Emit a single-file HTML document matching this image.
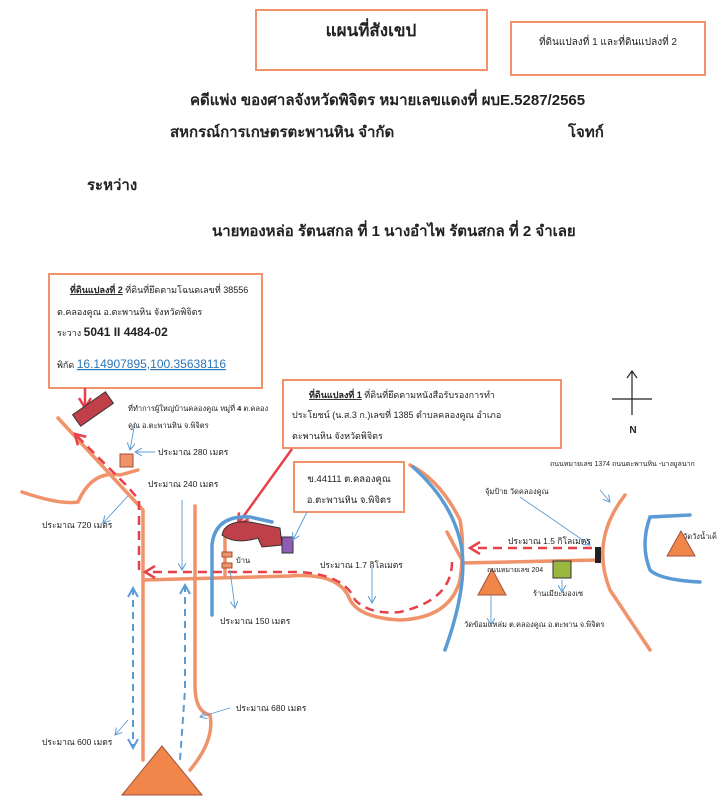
<!DOCTYPE html>
<html><head><meta charset="utf-8"><style>
html,body{margin:0;padding:0;background:#fff}
svg{display:block}
text{font-family:"Liberation Sans","Noto Sans CJK SC",sans-serif;fill:#222}
</style></head><body>
<svg width="725" height="800" viewBox="0 0 725 800" xmlns="http://www.w3.org/2000/svg">
<defs>
<marker id="ar" markerUnits="userSpaceOnUse" markerWidth="14" markerHeight="14" refX="11" refY="7" orient="auto-start-reverse"><path d="M1,1 L11,7 L1,13" fill="none" stroke="#e8404a" stroke-width="2.5"/></marker>
<marker id="ab" markerUnits="userSpaceOnUse" markerWidth="12" markerHeight="12" refX="10" refY="6" orient="auto-start-reverse"><path d="M1,1 L10,6 L1,11" fill="none" stroke="#5b9bd5" stroke-width="2"/></marker>
<marker id="at" markerUnits="userSpaceOnUse" markerWidth="8" markerHeight="8" refX="7" refY="4" orient="auto"><path d="M0,0 L7,4 L0,8" fill="none" stroke="#5b9bd5" stroke-width="1"/></marker>
</defs>
<!-- header boxes -->
<rect x="256" y="10" width="231" height="60" fill="none" stroke="#f0926a" stroke-width="2"/>
<text x="371" y="36" font-size="17" font-weight="bold" text-anchor="middle">แผนที่สังเขป</text>
<rect x="511" y="22" width="194" height="53" fill="none" stroke="#f0926a" stroke-width="2"/>
<text x="608" y="45" font-size="10" text-anchor="middle">ที่ดินแปลงที่ 1 และที่ดินแปลงที่ 2</text>
<text x="190" y="105" font-size="15" font-weight="bold">คดีแพ่ง   ของศาลจังหวัดพิจิตร  หมายเลขแดงที่ ผบE.5287/2565</text>
<text x="170" y="137" font-size="15" font-weight="bold">สหกรณ์การเกษตรตะพานหิน  จำกัด</text>
<text x="568" y="137" font-size="15" font-weight="bold">โจทก์</text>
<text x="87" y="190" font-size="15" font-weight="bold">ระหว่าง</text>
<text x="212" y="236" font-size="15" font-weight="bold">นายทองหล่อ  รัตนสกล  ที่ 1 นางอำไพ  รัตนสกล  ที่ 2     จำเลย</text>

<!-- plot 2 box -->
<rect x="49" y="274" width="213" height="114" fill="#fff" stroke="#f0926a" stroke-width="2"/>
<text x="70" y="293" font-size="9"><tspan font-weight="bold" text-decoration="underline">ที่ดินแปลงที่  2</tspan> ที่ดินที่ยึดตามโฉนดเลขที่ 38556</text>
<text x="57" y="315" font-size="9">ต.คลองคูณ  อ.ตะพานหิน  จังหวัดพิจิตร</text>
<text x="57" y="336" font-size="9">ระวาง  <tspan font-size="12" font-weight="bold">5041 II 4484-02</tspan></text>
<text x="57" y="368" font-size="9">พิกัด <tspan font-size="12" fill="#2e75b6" text-decoration="underline">16.14907895,100.35638116</tspan></text>
<line x1="85" y1="388" x2="85" y2="408" stroke="#e8404a" stroke-width="2.5" marker-end="url(#ar)"/>

<!-- plot 1 box -->
<rect x="283" y="380" width="278" height="68" fill="#fff" stroke="#f0926a" stroke-width="2"/>
<text x="309" y="398" font-size="9"><tspan font-weight="bold" text-decoration="underline">ที่ดินแปลงที่  1</tspan> ที่ดินที่ยึดตามหนังสือรับรองการทำ</text>
<text x="292" y="418" font-size="9">ประโยชน์ (น.ส.3 ก.)เลขที่  1385  ตำบลคลองคูณ  อำเภอ</text>
<text x="292" y="439" font-size="9">ตะพานหิน  จังหวัดพิจิตร</text>
<line x1="292" y1="449" x2="238" y2="524" stroke="#e8404a" stroke-width="2.5" marker-end="url(#ar)"/>

<rect x="294" y="462" width="110" height="50" fill="#fff" stroke="#f0926a" stroke-width="2"/>
<text x="349" y="482" font-size="9.5" text-anchor="middle">ข.44111  ต.คลองคูณ</text>
<text x="349" y="503" font-size="9.5" text-anchor="middle">อ.ตะพานหิน จ.พิจิตร</text>

<!-- north -->
<line x1="632" y1="372" x2="632" y2="415" stroke="#222" stroke-width="1.2"/>
<path d="M627,378 L632,371 L637,378" fill="none" stroke="#222" stroke-width="1.2"/>
<line x1="612" y1="399" x2="652" y2="399" stroke="#222" stroke-width="1.2"/>
<text x="633" y="433" font-size="10" text-anchor="middle" font-weight="bold">N</text>

<!-- roads orange -->
<g fill="none" stroke="#f0926a" stroke-width="3.5" stroke-linecap="round">
<path d="M58,418 L143,510 L143,760"/>
<path d="M22,492 Q60,505 78,502 Q92,470 120,475 L138,470"/>
<path d="M143,580 L290,576 Q340,572 350,600 Q360,618 400,620 Q450,618 460,580 Q465,545 460,520 Q440,480 410,465"/>
<path d="M195,506 L195,685 Q195,712 210,715 Q215,740 190,770"/>
<line x1="462" y1="563" x2="597" y2="560"/>
<path d="M625,495 Q590,540 610,590 L650,650"/>
<line x1="447" y1="532" x2="462" y2="560"/>
<line x1="225" y1="530" x2="225" y2="575"/>
</g>
<!-- blue rivers -->
<g fill="none" stroke="#5b9bd5" stroke-width="3.5" stroke-linecap="round">
<path d="M413,467 Q450,500 460,540 Q470,580 445,650"/>
<path d="M212,615 L212,545 Q215,515 250,517 L272,522"/>
<path d="M690,515 L650,517 Q640,545 650,570 Q660,580 700,582"/>
</g>
<!-- red dashed routes -->
<g fill="none" stroke="#e8404a" stroke-width="2.5" stroke-dasharray="9,6">
<path d="M592,548 L470,548" marker-end="url(#ar)"/>
<path d="M452,562 Q452,600 400,612 Q370,615 355,600 Q345,575 300,572 L145,572" marker-end="url(#ar)"/>
<path d="M139,570 L139,500 L128,487 L75,434" marker-end="url(#ar)"/>
</g>
<!-- blue dashed -->
<g fill="none" stroke="#5b9bd5" stroke-width="2" stroke-dasharray="7,5">
<path d="M133,588 L133,748" marker-end="url(#ab)" marker-start="url(#ab)"/>
<path d="M185,585 L185,690 L180,760" marker-start="url(#ab)"/>
</g>
<!-- buildings -->
<rect x="73" y="402" width="40" height="14" fill="#c0404a" stroke="#333" transform="rotate(-35 93 409)"/>
<rect x="120" y="454" width="13" height="13" fill="#f0926a" stroke="#a0503a"/>
<path d="M222,535 Q225,520 250,522 L280,528 L282,545 L262,547 L258,538 Q235,545 222,535Z" fill="#c0404a" stroke="#333"/>
<rect x="282" y="537" width="11" height="16" fill="#8e5bb5" stroke="#333"/>
<rect x="222" y="552" width="10" height="5" fill="#f0926a" stroke="#a0503a"/>
<rect x="222" y="563" width="10" height="5" fill="#f0926a" stroke="#a0503a"/>
<rect x="595" y="547" width="6" height="16" fill="#222"/>
<rect x="553" y="561" width="18" height="17" fill="#9ab840" stroke="#333"/>
<polygon points="492,569 478,595 506,595" fill="#f0864a" stroke="#a0503a"/>
<polygon points="681,531 667,556 695,556" fill="#f0864a" stroke="#a0503a"/>
<polygon points="162,746 122,795 202,795" fill="#f0864a" stroke="#a0503a"/>

<!-- thin leader lines -->
<g stroke="#5b9bd5" stroke-width="0.9" fill="none">
<line x1="155" y1="452" x2="135" y2="452" marker-end="url(#at)"/>
<line x1="135" y1="422" x2="130" y2="450" marker-end="url(#at)"/>
<line x1="128" y1="496" x2="103" y2="523" marker-end="url(#at)"/>
<line x1="182" y1="500" x2="182" y2="570" marker-end="url(#at)"/>
<line x1="230" y1="570" x2="235" y2="608" marker-end="url(#at)"/>
<line x1="307" y1="512" x2="293" y2="540" marker-end="url(#at)"/>
<line x1="372" y1="565" x2="372" y2="603" marker-end="url(#at)"/>
<line x1="520" y1="497" x2="590" y2="545" marker-end="url(#at)"/>
<line x1="600" y1="490" x2="610" y2="502" marker-end="url(#at)"/>
<line x1="562" y1="580" x2="562" y2="592" marker-end="url(#at)"/>
<line x1="491" y1="595" x2="491" y2="625" marker-end="url(#at)"/>
<line x1="230" y1="708" x2="200" y2="717" marker-end="url(#at)"/>
<line x1="128" y1="720" x2="115" y2="735" marker-end="url(#at)"/>
</g>

<!-- labels -->
<g font-size="8.5">
<text x="128" y="411" font-size="7.5">ที่ทำการผู้ใหญ่บ้านคลองคูณ หมู่ที่ <tspan font-weight="bold">4</tspan> ต.คลอง</text>
<text x="128" y="428" font-size="7.5">คูณ อ.ตะพานหิน จ.พิจิตร</text>
<text x="158" y="455">ประมาณ  280  เมตร</text>
<text x="148" y="487">ประมาณ  240  เมตร</text>
<text x="42" y="528">ประมาณ  720  เมตร</text>
<text x="236" y="563" font-size="7.5">บ้าน</text>
<text x="220" y="624">ประมาณ  150  เมตร</text>
<text x="320" y="568">ประมาณ  1.7  กิโลเมตร</text>
<text x="508" y="544">ประมาณ  1.5  กิโลเมตร</text>
<text x="487" y="572" font-size="7">ถนนหมายเลข 204</text>
<text x="533" y="596" font-size="7.5">ร้านเมียะมองเซ</text>
<text x="464" y="627" font-size="7.5">วัดข้อมแหล่ม ต.คลองคูณ อ.ตะพาน จ.พิจิตร</text>
<text x="485" y="494" font-size="7.5">จุ้มป้าย วัดคลองคูณ</text>
<text x="550" y="466" font-size="7">ถนนหมายเลข 1374  ถนนตะพานหิน -บางมูลนาก</text>
<text x="683" y="539" font-size="7.5">วัดวังน้ำเค็</text>
<text x="236" y="711">ประมาณ  680  เมตร</text>
<text x="42" y="745">ประมาณ  600  เมตร</text>
</g>
</svg>
</body></html>
